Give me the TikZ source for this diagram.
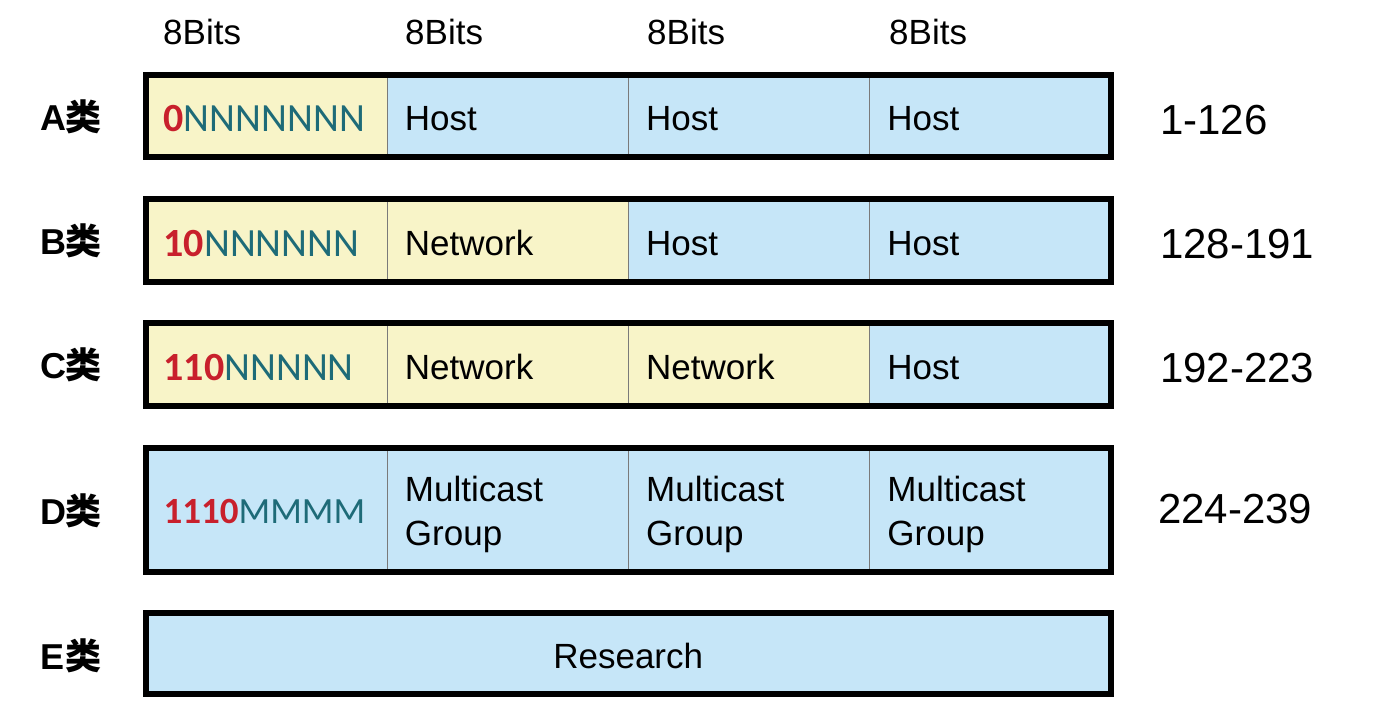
\documentclass[tikz,border=0pt]{standalone}
\usepackage{fontspec}
\setmainfont{Liberation Sans}
\newfontfamily\carlito{Carlito}
\newfontfamily\cjk{Noto Sans CJK SC}
\definecolor{netyellow}{HTML}{F8F4C8}
\definecolor{hostblue}{HTML}{C6E6F8}
\definecolor{bitred}{HTML}{C8202C}
\definecolor{bitteal}{HTML}{1E6B78}
\definecolor{divgray}{HTML}{7A7A7A}
% leading bits in red bold, remaining bits in teal
\newcommand{\lead}[3][40]{{\carlito\fontsize{#1}{44}\selectfont\bfseries\color{bitred}#2}{\carlito\fontsize{#1}{44}\selectfont\color{bitteal}#3}}
\begin{document}
\begin{tikzpicture}[x=1pt,y=-1pt,
  cell/.style={draw=divgray, line width=0.8pt, anchor=north west,
    minimum width=241.25pt, inner sep=0pt, minimum height=#1},
  celltext/.style={anchor=west, inner sep=0pt, align=left,
    font=\fontsize{35}{44}\selectfont},
  net/.style={fill=netyellow},
  host/.style={fill=hostblue},
  frame/.style={draw=black, line width=6pt},
  classlbl/.style={anchor=center, font=\fontsize{36}{40}\selectfont\bfseries},
  rangelbl/.style={anchor=west, inner sep=0pt, font=\fontsize{42}{48}\selectfont},
  bitslbl/.style={anchor=west, inner sep=0pt, font=\fontsize{35}{40}\selectfont}]
\useasboundingbox (0,0) rectangle (1396,719);

% column headers
\node[bitslbl] (h1) at (163,32) {8Bits};
\node[bitslbl] (h2) at (405,32) {8Bits};
\node[bitslbl] (h3) at (647,32) {8Bits};
\node[bitslbl] (h4) at (889,32) {8Bits};

% class A
\node[cell=81pt, net]  (a1) at (145.5,75) {};
\node[cell=81pt, host] (a2) at (386.75,75) {};
\node[cell=81pt, host] (a3) at (628,75) {};
\node[cell=81pt, host] (a4) at (869.25,75) {};
\draw[frame] (a1.north west) rectangle (a4.south east);
\node[celltext] (ta1) at ([xshift=18pt,yshift=-3pt]a1.west) {\lead{0}{NNNNNNN}};
\node[celltext] (ta2) at ([xshift=18pt,yshift=-3pt]a2.west) {Host};
\node[celltext] (ta3) at ([xshift=18pt,yshift=-3pt]a3.west) {Host};
\node[celltext] (ta4) at ([xshift=18pt,yshift=-3pt]a4.west) {Host};

% class B
\node[cell=82pt, net]  (b1) at (145.5,199) {};
\node[cell=82pt, net]  (b2) at (386.75,199) {};
\node[cell=82pt, host] (b3) at (628,199) {};
\node[cell=82pt, host] (b4) at (869.25,199) {};
\draw[frame] (b1.north west) rectangle (b4.south east);
\node[celltext] (tb1) at ([xshift=18pt,yshift=-3pt]b1.west) {\lead{10}{NNNNNN}};
\node[celltext] (tb2) at ([xshift=18pt,yshift=-3pt]b2.west) {Network};
\node[celltext] (tb3) at ([xshift=18pt,yshift=-3pt]b3.west) {Host};
\node[celltext] (tb4) at ([xshift=18pt,yshift=-3pt]b4.west) {Host};

% class C
\node[cell=82pt, net]  (c1) at (145.5,323) {};
\node[cell=82pt, net]  (c2) at (386.75,323) {};
\node[cell=82pt, net]  (c3) at (628,323) {};
\node[cell=82pt, host] (c4) at (869.25,323) {};
\draw[frame] (c1.north west) rectangle (c4.south east);
\node[celltext] (tc1) at ([xshift=18pt,yshift=-3pt]c1.west) {\lead{110}{NNNNN}};
\node[celltext] (tc2) at ([xshift=18pt,yshift=-3pt]c2.west) {Network};
\node[celltext] (tc3) at ([xshift=18pt,yshift=-3pt]c3.west) {Network};
\node[celltext] (tc4) at ([xshift=18pt,yshift=-3pt]c4.west) {Host};

% class D
\node[cell=123pt, host] (d1) at (145.5,448) {};
\node[cell=123pt, host] (d2) at (386.75,448) {};
\node[cell=123pt, host] (d3) at (628,448) {};
\node[cell=123pt, host] (d4) at (869.25,448) {};
\draw[frame] (d1.north west) rectangle (d4.south east);
\node[celltext] (td1) at ([xshift=18pt,yshift=-2pt]d1.west) {\lead[37]{1110}{MMMM}};
\node[celltext] (td2) at ([xshift=18pt,yshift=-5pt]d2.west) {Multicast\\Group};
\node[celltext] (td3) at ([xshift=18pt,yshift=-5pt]d3.west) {Multicast\\Group};
\node[celltext] (td4) at ([xshift=18pt,yshift=-5pt]d4.west) {Multicast\\Group};

% class E
\node[fill=hostblue, anchor=north west, minimum width=965pt,
  minimum height=81pt, inner sep=0pt] (e1) at (145.5,613) {};
\draw[frame] (e1.north west) rectangle (e1.south east);
\node[celltext, anchor=center] (te1) at ([yshift=-2pt]e1.center) {Research};

% class labels
\node[classlbl] (la) at (71,117) {A{\cjk\bfseries 类}};
\node[classlbl] (lb) at (71,241) {B{\cjk\bfseries 类}};
\node[classlbl] (lc) at (71,365) {C{\cjk\bfseries 类}};
\node[classlbl] (ld) at (71,511) {D{\cjk\bfseries 类}};
\node[classlbl] (le) at (71,656) {E{\cjk\bfseries 类}};

% address ranges
\node[rangelbl] (ra) at (1160,120) {1-126};
\node[rangelbl] (rb) at (1160,244) {128-191};
\node[rangelbl] (rc) at (1160,368) {192-223};
\node[rangelbl] (rd) at (1158,509) {224-239};
\end{tikzpicture}
\end{document}
